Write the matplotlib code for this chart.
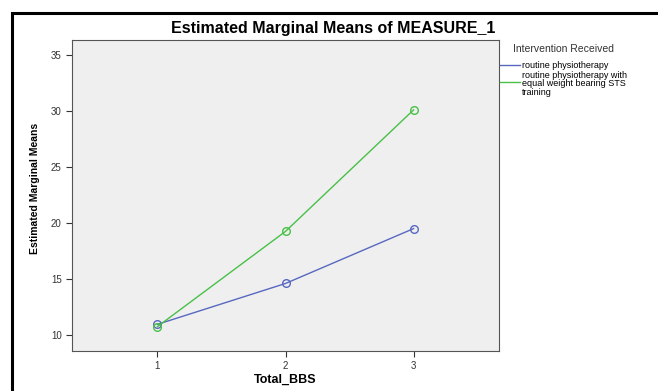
import matplotlib.pyplot as plt
from matplotlib.patches import Rectangle

plt.rcParams['font.family'] = ['Liberation Sans', 'DejaVu Sans']

# data
bbs = [1, 2, 3]
routine = [10.95, 14.6, 19.5]
sts_training = [10.75, 19.25, 30.1]
labels = ['routine physiotherapy',
          'routine physiotherapy with\nequal weight bearing STS\ntraining']
yticks = [10, 15, 20, 25, 30, 35]

blue = '#5868C0'
green = '#48C048'

fig = plt.figure(figsize=(6.58, 3.91), dpi=100)
# plot box in pixel coords: left 72, right 499, top 40, bottom 351
ax = fig.add_axes([72/658, 1 - 351/391, (499 - 72)/658, (351 - 40)/391])
ax.set_facecolor('#EFEFEF')

ax.plot(bbs, routine, color=blue, lw=1, marker='o', ms=5.5, mfc='none', mec=blue, mew=1)
ax.plot(bbs, sts_training, color=green, lw=1, marker='o', ms=5.5, mfc='none', mec=green, mew=1)

ax.set_xlim(0.333, 3.667)
ax.set_ylim(8.57, 36.34)
ax.set_xticks(bbs)
ax.set_yticks(yticks)
ax.tick_params(axis='both', direction='out', length=4, width=0.8, colors='#333333',
               labelsize=7, labelcolor='#333333')
for s in ax.spines.values():
    s.set_color('#555555')
    s.set_linewidth(0.8)

# axis titles placed where SPSS puts them
fig.text(285/658, 1 - 380/391, 'Total_BBS', ha='center', va='center', fontsize=9, fontweight='bold')
fig.text(35/658, 1 - 188/391, 'Estimated Marginal Means', ha='center', va='center', rotation=90,
         fontsize=7.5, fontweight='bold')

fig.text(0.507, 1 - 29/391, 'Estimated Marginal Means of MEASURE_1', ha='center', va='center',
         fontsize=11.5, fontweight='bold')

# legend drawn by hand like SPSS
fig.text(513/658, 1 - 49/391, 'Intervention Received', fontsize=7.5, color='#333333', va='center')
fig.add_artist(plt.Line2D([500/658, 520/658], [1 - 65/391, 1 - 65/391], color=blue, lw=1))
fig.add_artist(plt.Line2D([500/658, 520/658], [1 - 82/391, 1 - 82/391], color=green, lw=1))
fig.text(522/658, 1 - 66/391, labels[0], fontsize=6.5, va='center', linespacing=0.95)
fig.text(522/658, 1 - 84/391, labels[1], fontsize=6.5, va='center', linespacing=0.95)

# black frame around the chart
fig.add_artist(Rectangle((12/658, -0.05), 1.1, 1 - 13/391 + 0.05, transform=fig.transFigure,
                         fill=False, edgecolor='black', lw=2.2))

fig.savefig('out.png', dpi=100)
